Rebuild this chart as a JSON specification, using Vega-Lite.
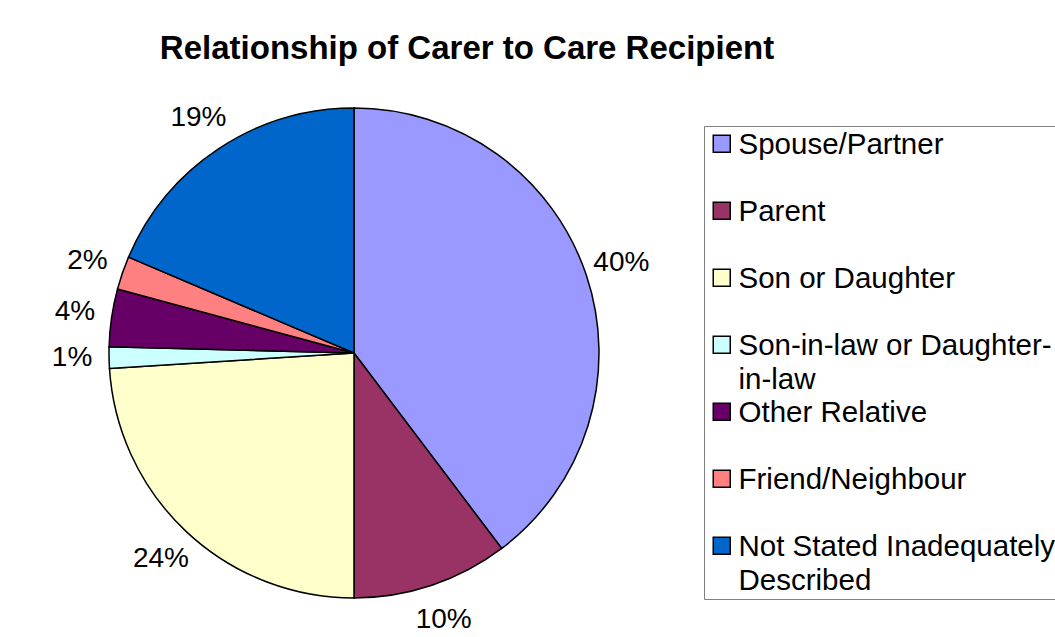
{
  "$schema": "https://vega.github.io/schema/vega-lite/v6.json",
  "width": 694,
  "height": 574,
  "autosize": {"type": "pad"},
  "padding": {"left": 7, "top": 33, "right": 0, "bottom": 0},
  "background": "white",
  "title": {
    "text": "Relationship of Carer to Care Recipient",
    "font": "Liberation Sans",
    "fontSize": 33,
    "fontWeight": "bold",
    "color": "black",
    "anchor": "middle",
    "frame": "group",
    "dx": 113,
    "offset": 0,
    "baseline": "top"
  },
  "config": {"view": {"stroke": null}},
  "data": {
    "values": [
      {"k": 1, "cat": "Spouse/Partner", "value": 39.7, "label": "40%"},
      {"k": 2, "cat": "Parent", "value": 10.3, "label": "10%"},
      {"k": 3, "cat": "Son or Daughter", "value": 24.0, "label": "24%"},
      {"k": 4, "cat": "Son-in-law or Daughter-in-law", "value": 1.4, "label": "1%"},
      {"k": 5, "cat": "Other Relative", "value": 3.8, "label": "4%"},
      {"k": 6, "cat": "Friend/Neighbour", "value": 2.2, "label": "2%"},
      {"k": 7, "cat": "Not Stated Inadequately Described", "value": 18.6, "label": "19%"}
    ]
  },
  "encoding": {
    "theta": {"field": "value", "type": "quantitative", "stack": true},
    "order": {"field": "k", "type": "quantitative"}
  },
  "layer": [
    {
      "mark": {"type": "arc", "radius": 245, "stroke": "black", "strokeWidth": 1.5},
      "encoding": {
        "color": {
          "field": "cat",
          "type": "nominal",
          "sort": null,
          "scale": {
            "domain": ["Spouse/Partner", "Parent", "Son or Daughter", "Son-in-law or Daughter-in-law", "Other Relative", "Friend/Neighbour", "Not Stated Inadequately Described"],
            "range": ["#9999FF", "#993366", "#FFFFCC", "#CCFFFF", "#660066", "#FF8080", "#0066CC"]
          },
          "legend": {
            "orient": "none",
            "legendX": 697,
            "legendY": 60,
            "title": null,
            "direction": "vertical",
            "symbolType": "square",
            "symbolSize": 289,
            "symbolStrokeColor": "black",
            "symbolStrokeWidth": 1.5,
            "labelFont": "Liberation Sans",
            "labelFontSize": 29.5,
            "labelColor": "black",
            "labelLimit": 500,
            "labelOffset": 2,
            "labelBaseline": "alphabetic",
            "strokeColor": "#808080",
            "fillColor": "white",
            "padding": 3,
            "rowPadding": 2,
            "gridAlign": "all",
            "labelExpr": "datum.label == 'Son-in-law or Daughter-in-law' ? ['Son-in-law or Daughter-', 'in-law'] : datum.label == 'Not Stated Inadequately Described' ? ['Not Stated Inadequately', 'Described'] : datum.label",
            "encode": {"labels": {"update": {"dy": {"value": 10}, "lineHeight": {"value": 34}}}}
          }
        }
      }
    },
    {
      "mark": {"type": "text", "radius": 282, "font": "Liberation Sans", "fontSize": 28, "fill": "black", "align": "center", "baseline": "middle"},
      "encoding": {"text": {"field": "label"}}
    }
  ]
}
